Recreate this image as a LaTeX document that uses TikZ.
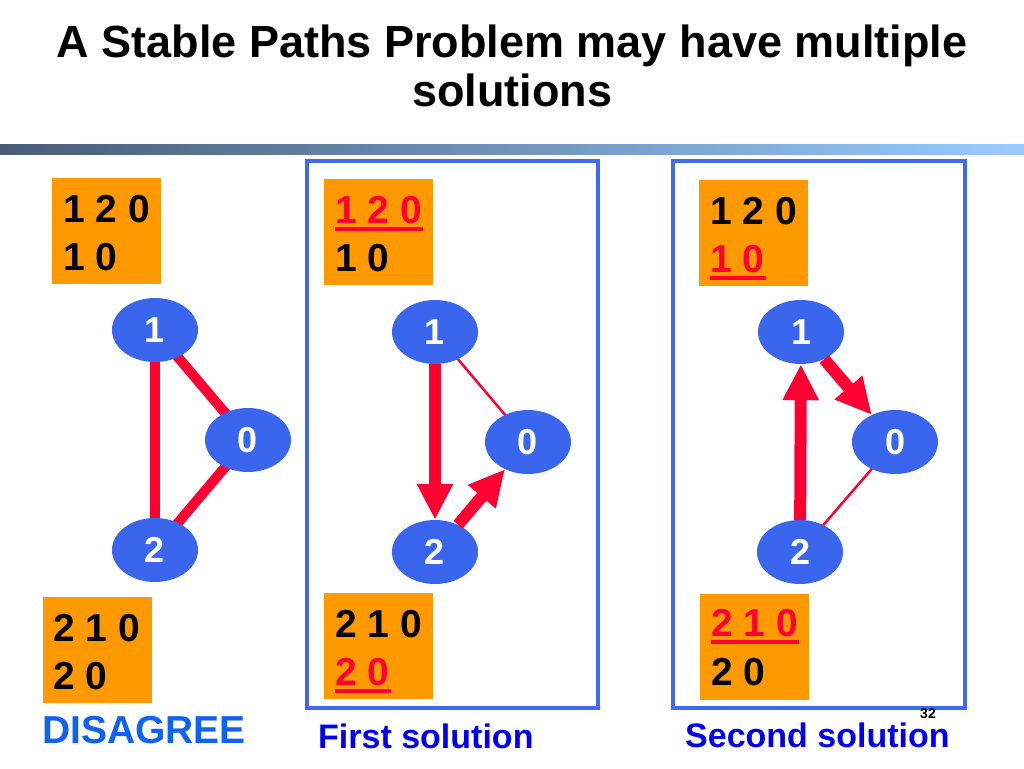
\documentclass[tikz,border=0pt]{standalone}
\usepackage{fontspec}
\setmainfont{Liberation Sans}
\usetikzlibrary{arrows.meta,shapes.geometric,calc,backgrounds}
\definecolor{nodeblue}{RGB}{58,102,238}
\definecolor{frameblue}{RGB}{64,106,234}
\definecolor{edgered}{RGB}{255,0,51}
\definecolor{boxorange}{RGB}{255,153,0}
\definecolor{disblue}{RGB}{16,98,240}
\definecolor{solblue}{RGB}{0,0,238}
\definecolor{barleft}{RGB}{72,92,118}
\definecolor{barright}{RGB}{153,204,255}
\begin{document}
\begin{tikzpicture}[x=1pt,y=-1pt,
  gnode/.style={ellipse, fill=nodeblue, minimum width=86pt, minimum height=64pt, inner sep=0pt, text=white, font=\fontsize{36}{36}\selectfont\bfseries},
  pathbox/.style={fill=boxorange, minimum width=109pt, minimum height=106pt, anchor=north west, inner sep=0pt},
  ptxt/.style={anchor=base west, inner sep=0pt, font=\fontsize{39}{39}\selectfont\bfseries},
  redtxt/.style={ptxt, text=edgered},
  uline/.style={draw=edgered, line width=3.5pt},
  link/.style={draw=edgered, line width=10pt},
  thinlink/.style={draw=edgered, line width=2.5pt},
  arr/.style={draw=edgered, line width=12pt, -{Triangle[width=34pt,length=36pt]}},
  frame/.style={draw=frameblue, line width=4pt},
  titletxt/.style={anchor=base, inner sep=0pt, font=\fontsize{45}{45}\selectfont\bfseries},
  captxt/.style={anchor=base west, inner sep=0pt}
]
\useasboundingbox (0,0) rectangle (1024,768);
\begin{scope}[on background layer]
  \fill[white] (0,0) rectangle (1024,768);
\end{scope}
% title
\node[titletxt] (t1) at (512,58) {A Stable Paths Problem may have multiple};
\node[titletxt] (t2) at (512,106) {solutions};
% bar
\shade[left color=barleft, right color=barright] (0,144) rectangle (1024,154);
% frames
\draw[frame] (307,161) rectangle (598,708);
\draw[frame] (673,161) rectangle (965,708);

% ---------- panel 1 ----------
\node[pathbox] (p1a) at (52,178) {};
\node[ptxt] (p1a1) at (63,222) {1 2 0};
\node[ptxt] (p1a2) at (63,270) {1 0};
\node[pathbox] (p1b) at (43,597) {};
\node[ptxt] (p1b1) at (53,641) {2 1 0};
\node[ptxt] (p1b2) at (53,689) {2 0};
\node[gnode] (a1) at (155,330) {1};
\node[gnode] (a0) at (248,440) {0};
\node[gnode] (a2) at (155,550) {2};
\begin{scope}[on background layer]
  \draw[link] (a1.center) -- (a2.center);
  \draw[link] (a1.center) -- (a0.center);
  \draw[link] (a2.center) -- (a0.center);
\end{scope}
\node[captxt, text=disblue, font=\fontsize{39}{39}\selectfont\bfseries] (dis) at (42,743) {DISAGREE};

% ---------- panel 2 ----------
\node[pathbox] (p2a) at (324,179) {};
\node[redtxt] (p2a1) at (335,223) {1 2 0};
\node[ptxt] (p2a2) at (335,271) {1 0};
\draw[uline] ($(p2a1.base west)+(0,6)$) -- ($(p2a1.base east)+(1,6)$);
\node[pathbox] (p2b) at (324,593) {};
\node[ptxt] (p2b1) at (335,637) {2 1 0};
\node[redtxt] (p2b2) at (335,685) {2 0};
\draw[uline] ($(p2b2.base west)+(0,6)$) -- ($(p2b2.base east)+(1,6)$);
\node[gnode] (b1) at (435,332) {1};
\node[gnode] (b0) at (528,442) {0};
\node[gnode] (b2) at (435,552) {2};
\begin{scope}[on background layer]
  \draw[thinlink] (b1.center) -- (b0.center);
\end{scope}
\draw[arr] (b1) -- (b2);
\draw[arr] (b2) -- (b0);
\node[captxt, text=solblue, font=\fontsize{34}{34}\selectfont\bfseries] (first) at (318,748) {First solution};

% ---------- panel 3 ----------
\node[pathbox] (p3a) at (699,180) {};
\node[ptxt] (p3a1) at (710,224) {1 2 0};
\node[redtxt] (p3a2) at (710,272) {1 0};
\draw[uline] ($(p3a2.base west)+(0,6)$) -- ($(p3a2.base east)+(1,6)$);
\node[pathbox] (p3b) at (700,594) {};
\node[redtxt] (p3b1) at (711,636) {2 1 0};
\node[ptxt] (p3b2) at (711,685) {2 0};
\draw[uline] ($(p3b1.base west)+(0,6)$) -- ($(p3b1.base east)+(1,6)$);
\node[gnode] (c1) at (801,332) {1};
\node[gnode] (c0) at (895,442) {0};
\node[gnode] (c2) at (800,552) {2};
\begin{scope}[on background layer]
  \draw[thinlink] (c2.center) -- (c0.center);
\end{scope}
\draw[arr] (c2) -- (c1);
\draw[arr] (c1) -- (c0);
\node[captxt, text=solblue, font=\fontsize{34}{34}\selectfont\bfseries] (second) at (685,747) {Second solution};
\node[inner sep=0pt, font=\fontsize{14}{14}\selectfont\bfseries] (pg) at (928,714) {32};
\end{tikzpicture}
\end{document}
